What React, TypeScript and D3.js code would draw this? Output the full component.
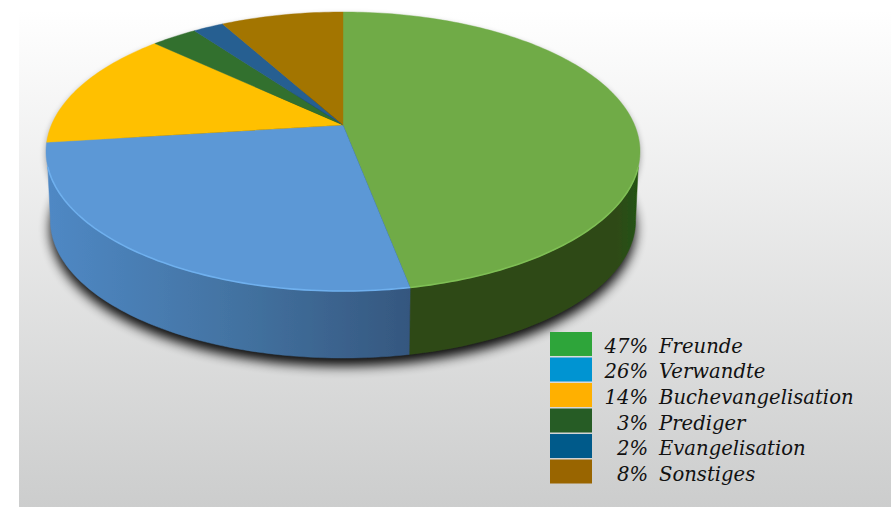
import React from "react";
import * as d3 from "d3";

const categories = ["Freunde", "Verwandte", "Buchevangelisation", "Prediger", "Evangelisation", "Sonstiges"];
const shares = [47, 26, 14, 3, 2, 8];
const topColors = ["#6fab46", "#5b98d6", "#ffc000", "#32702f", "#255e91", "#a37400"];
const sideColors = ["#2f4a17", "#3f6796", "#a07800", "#1e4318", "#173a5a", "#664800"];
const rimColors = ["#7fbf55", "#6fb0ee", "#ffc000", "#32702f", "#255e91", "#a37400"];
const legendColors = ["#2ea53a", "#0094d2", "#ffb000", "#265c25", "#005a8a", "#996500"];

const W = 891, H = 507;
const K = -0.19, Bv = 134.5, Au = 291.6, X0 = 343, Y0 = 125, DEPTH = 69.5, BOTTOM_SCALE = 0.985;

const project = (t: number, dy = 0, scale = 1): [number, number] => {
  const u = Math.sin(t), v = -Math.cos(t), w = 1 + K * v;
  return [X0 + (scale * Au * u) / w, Y0 + dy + (scale * Bv * v) / w];
};
const arcPts = (a0: number, a1: number, dy = 0, scale = 1) => {
  const n = Math.max(2, Math.ceil(Math.abs(a1 - a0) / 0.02));
  return d3.range(n + 1).map((i) => project(a0 + ((a1 - a0) * i) / n, dy, scale));
};
const line = d3.line();

export default function App() {
  const arcs = d3.pie<number>().sort(null)(shares);
  // rim angles where the side wall becomes visible, and the widest points of the lower rim
  const rimStart = 1.869, rimEnd = Math.PI * 2 - rimStart;
  const wideStart = 1.76, wideEnd = Math.PI * 2 - wideStart;
  const sides = arcs
    .map((a, i) => {
      const s = Math.max(a.startAngle, rimStart), e = Math.min(a.endAngle, rimEnd);
      if (e <= s) return null;
      const s2 = s === rimStart ? wideStart : s;
      const e2 = e === rimEnd ? wideEnd : e;
      return {
        i,
        rim: line(arcPts(s, e))!,
        d: line([...arcPts(s, e), ...arcPts(e2, s2, DEPTH, BOTTOM_SCALE)])! + "Z",
      };
    })
    .filter(Boolean) as { i: number; d: string; rim: string }[];
  const outline = line(arcPts(0, Math.PI * 2, DEPTH, BOTTOM_SCALE))! + "Z";
  const topOutline = line(arcPts(0, Math.PI * 2))! + "Z";
  const ys = d3.scaleBand<string>().domain(categories).range([332, 483.5]).paddingInner(0.06);
  const sideFill = (i: number) => (i === 1 ? "url(#blueSide)" : i === 0 ? "url(#greenSide)" : sideColors[i]);

  return (
    <svg width={W} height={H} style={{ position: "absolute", left: 0, top: 0 }}>
      <defs>
        <linearGradient id="bg" x1="0" y1="0" x2="0" y2="1">
          <stop offset="0" stopColor="#ffffff" />
          <stop offset="1" stopColor="#cccdcd" />
        </linearGradient>
        <linearGradient id="blueSide" gradientUnits="userSpaceOnUse" x1="50" y1="0" x2="410" y2="0">
          <stop offset="0" stopColor="#4f88c4" />
          <stop offset="0.55" stopColor="#42719f" />
          <stop offset="1" stopColor="#35577f" />
        </linearGradient>
        <linearGradient id="greenSide" gradientUnits="userSpaceOnUse" x1="410" y1="0" x2="640" y2="0">
          <stop offset="0" stopColor="#2f4a17" />
          <stop offset="0.9" stopColor="#2f4a17" />
          <stop offset="1" stopColor="#215410" />
        </linearGradient>
        <filter id="soft" x="-5%" y="-5%" width="110%" height="110%">
          <feGaussianBlur stdDeviation="0.7" />
        </filter>
        <filter id="shadow" x="-10%" y="-10%" width="120%" height="130%">
          <feGaussianBlur stdDeviation="6" />
        </filter>
        <filter id="shadowSmall" x="-10%" y="-10%" width="120%" height="130%">
          <feGaussianBlur stdDeviation="3" />
        </filter>
      </defs>
      <rect x={19} y={10} width={W - 19} height={H - 10} fill="url(#bg)" />
      <path d={outline} fill="#000" opacity={0.95} transform="translate(0,8)" filter="url(#shadow)" />
      <path d={topOutline} fill="#000" opacity={0.35} transform="translate(0,3)" filter="url(#shadowSmall)" />
      <g filter="url(#soft)">
        {sides.map((s) => (
          <path key={s.i} d={s.d} fill={sideFill(s.i)} stroke={sideFill(s.i)} strokeWidth={0.5} />
        ))}
        {arcs.map((a, i) => (
          <path
            key={i}
            d={line([[X0, Y0], ...arcPts(a.startAngle, a.endAngle)])! + "Z"}
            fill={topColors[i]}
            stroke={topColors[i]}
            strokeWidth={0.4}
          />
        ))}
        {sides.map((s) => (
          <path key={s.i} d={s.rim} fill="none" stroke={rimColors[s.i]} strokeWidth={1.6} />
        ))}
      </g>
      {categories.map((c, i) => (
        <g key={c}>
          <rect x={550} y={ys(c)} width={42} height={ys.bandwidth()} fill={legendColors[i]} />
          <text x={648} y={ys(c)! + ys.bandwidth() / 2 + 9} textAnchor="end" fontFamily="'DejaVu Serif'" fontStyle="italic" fontSize={19.6} fill="#111">
            {shares[i]}%
          </text>
          <text x={659} y={ys(c)! + ys.bandwidth() / 2 + 9} fontFamily="'DejaVu Serif'" fontStyle="italic" fontSize={19.6} fill="#111">
            {c}
          </text>
        </g>
      ))}
    </svg>
  );
}
